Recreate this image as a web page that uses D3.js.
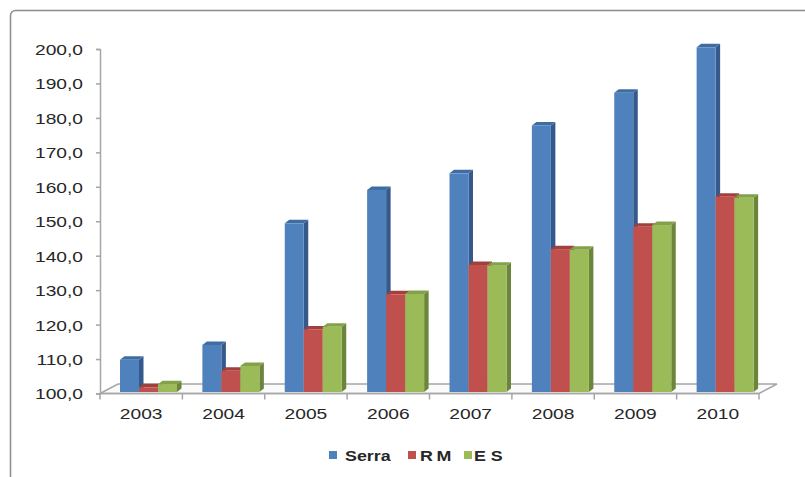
<!DOCTYPE html>
<html>
<head>
<meta charset="utf-8">
<script src="https://cdn.jsdelivr.net/npm/d3@7"></script>
<style>
  html, body { margin: 0; padding: 0; background: #fff; }
  svg { display: block; }
  text { font-family: "Liberation Sans", Arial, sans-serif; fill: #262626; }
</style>
</head>
<body>
<svg id="chart" width="805" height="477"></svg>
<script>
// Index values per year (base 100)
const years = ["2003", "2004", "2005", "2006", "2007", "2008", "2009", "2010"];
const serra = [109.8, 114.1, 149.4, 159.1, 163.9, 177.8, 187.3, 200.5];
const rm    = [101.8, 106.6, 118.6, 128.8, 137.3, 141.9, 148.4, 157.1];
const es    = [102.7, 108.0, 119.4, 128.9, 137.1, 141.7, 148.9, 156.8];
const seriesNames = ["Serra", "RM", "E S"];
const yTicks = [100, 110, 120, 130, 140, 150, 160, 170, 180, 190, 200];

const seriesValues = [serra, rm, es];
const palette = {
  "Serra": { front: "#4F81BD", side: "#34598a", top: "#3f6ca3" },
  "RM":    { front: "#C0504D", side: "#8a3633", top: "#a2403d" },
  "E S":   { front: "#9BBB59", side: "#6b863a", top: "#82a149" }
};

const svg = d3.select("#chart");
const stretch = 1.28;          // wide lettering of the axis labels
const depthX = 4.5, depthY = 3.5; // bar extrusion
const floorDX = 18, floorDY = 9.5;

const x = d3.scaleBand().domain(years).range([100, 759]);
const inner = d3.scaleBand().domain(seriesNames).range([20, 77]);
const y = d3.scaleLinear().domain([100, 200]).range([393.5, 49]);

// outer frame
svg.append("rect")
  .attr("x", 10.5).attr("y", 10.5)
  .attr("width", 830).attr("height", 520)
  .attr("rx", 5)
  .attr("fill", "none")
  .attr("stroke", "#8c8c8c")
  .attr("stroke-width", 1.5);

// floor of the plot
const x0 = x.range()[0], x1 = x.range()[1], yb = y(100);
svg.append("path")
  .attr("d", `M${x0},${yb} L${x0 + floorDX},${yb - floorDY} L${x1 + floorDX},${yb - floorDY} L${x1},${yb} Z`)
  .attr("fill", "#fbfbfb")
  .attr("stroke", "#a6a6a6")
  .attr("stroke-width", 1.5);

// y axis
const yAxis = d3.axisLeft(y)
  .tickValues(yTicks)
  .tickSize(4)
  .tickPadding(0)
  .tickFormat(d => d3.format(".1f")(d).replace(".", ","));
const gy = svg.append("g").attr("transform", "translate(100,0)").call(yAxis);
gy.select(".domain").attr("stroke", "#a6a6a6").attr("stroke-width", 1.5);
gy.selectAll(".tick line").attr("stroke", "#a6a6a6").attr("stroke-width", 1.5);
gy.selectAll(".tick text")
  .attr("x", -17 / stretch)
  .attr("dy", "0.36em")
  .attr("transform", `scale(${stretch},1)`)
  .style("font-size", "15px")
  .style("fill", "#262626");

// x axis: front edge, boundary ticks, centred labels
const gx = svg.append("g");
gx.append("line")
  .attr("x1", x0).attr("x2", x1).attr("y1", yb).attr("y2", yb)
  .attr("stroke", "#a6a6a6").attr("stroke-width", 1.5);
const bounds = years.map(d => x(d)).concat([x1]);
gx.selectAll("line.tick").data(bounds).join("line")
  .attr("class", "tick")
  .attr("x1", d => d).attr("x2", d => d)
  .attr("y1", yb).attr("y2", yb + 6)
  .attr("stroke", "#a6a6a6").attr("stroke-width", 1.5);
gx.selectAll("text").data(years).join("text")
  .attr("transform", d => `translate(${x(d) + x.bandwidth() / 2},419) scale(${stretch},1)`)
  .attr("text-anchor", "middle")
  .style("font-size", "15px")
  .text(d => d);

// 3D columns
const bars = [];
years.forEach((yr, j) => {
  seriesNames.forEach((name, i) => {
    bars.push({ year: yr, name, value: seriesValues[i][j] });
  });
});

const gb = svg.append("g");
const bar = gb.selectAll("g.bar").data(bars).join("g").attr("class", "bar");
bar.each(function (d) {
  const g = d3.select(this);
  const bx = x(d.year) + inner(d.name);
  const w = inner.bandwidth();
  const top = y(d.value);
  const bottom = y(100) - 1.5;
  const c = palette[d.name];
  // side face
  g.append("path")
    .attr("d", `M${bx + w},${top} L${bx + w + depthX},${top - depthY} L${bx + w + depthX},${bottom - depthY} L${bx + w},${bottom} Z`)
    .attr("fill", c.side);
  // top face
  g.append("path")
    .attr("d", `M${bx},${top} L${bx + depthX},${top - depthY} L${bx + w + depthX},${top - depthY} L${bx + w},${top} Z`)
    .attr("fill", c.top);
  // front face
  g.append("rect")
    .attr("x", bx).attr("y", top)
    .attr("width", w).attr("height", bottom - top)
    .attr("fill", c.front);
});

// legend
const legendItems = [
  { name: "Serra", sx: 329, tx: 345, spacing: 0 },
  { name: "RM", sx: 408, tx: 420, spacing: 3 },
  { name: "E S", sx: 464, tx: 474, spacing: 0 }
];
const gl = svg.append("g");
const li = gl.selectAll("g").data(legendItems).join("g");
li.append("rect")
  .attr("x", d => d.sx).attr("y", 451)
  .attr("width", 8).attr("height", 8)
  .attr("fill", d => palette[d.name].front);
li.append("text")
  .attr("transform", d => `translate(${d.tx},461) scale(1.19,1)`)
  .style("font-size", "15px")
  .style("font-weight", "bold")
  .style("letter-spacing", d => d.spacing + "px")
  .text(d => d.name);
</script>
</body>
</html>
